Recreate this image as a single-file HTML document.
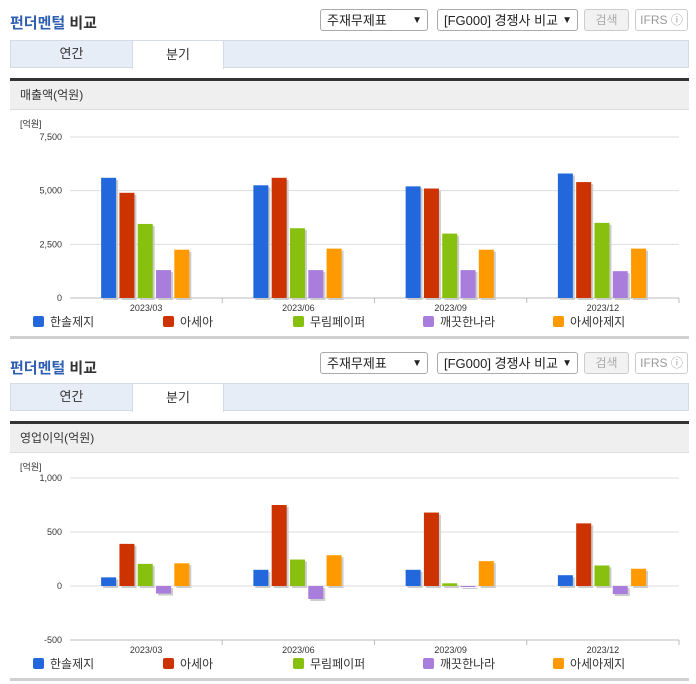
<!DOCTYPE html>
<html><head><meta charset="utf-8">
<style>
body{margin:0;width:696px;height:684px;background:#fff;font-family:"Liberation Sans","Noto Sans CJK KR",sans-serif;position:relative;overflow:hidden}
.abs{position:absolute}
.title{font-size:15px;font-weight:bold;color:#333}
.title span{color:#2f5fb3}
.sel{border:1px solid #aaa;border-radius:3px;height:22px;font-size:13px;line-height:22px;padding-left:6px;box-sizing:border-box;color:#222;background:#fff}
.sel i{position:absolute;right:5px;top:0;font-style:normal;font-size:10px}
.btn{border:1px solid #ccc;border-radius:3px;height:22px;font-size:12px;line-height:20px;text-align:center;box-sizing:border-box;color:#aaa;background:#f2f2f2}
.ifrs{background:#fff;color:#999}
.tabs{left:10px;width:679px;height:28px;background:#e7edf7;border:1px solid #d5dbe5;box-sizing:border-box}
.tab{top:-1px;height:29px;font-size:13px;line-height:28px;text-align:center;color:#333;box-sizing:border-box}
.tab.on{background:#fff;border:1px solid #d5dbe5;border-bottom:none}
.dark{left:10px;width:679px;height:3px;background:#333}
.gray{left:10px;width:679px;height:29px;background:#efefef;font-size:12px;line-height:29px;color:#333;padding-left:10px;box-sizing:border-box;border-bottom:1px solid #ddd}
.bot{left:10px;width:679px;height:3px;background:#d0d0d0}
</style></head><body>
<div>
<div class="abs title" style="left:10px;top:12px"><span>펀더멘털</span> 비교</div>
<div class="abs sel" style="left:320px;top:9px;width:108px">주재무제표<i>▼</i></div>
<div class="abs sel" style="left:437px;top:9px;width:141px">[FG000] 경쟁사 비교<i>▼</i></div>
<div class="abs btn" style="left:584px;top:9px;width:45px">검색</div>
<div class="abs btn ifrs" style="left:635px;top:9px;width:53px">IFRS ⓘ</div>
<div class="abs tabs" style="top:40px">
<div class="abs tab" style="left:0;width:121px">연간</div>
<div class="abs tab on" style="left:121px;width:92px">분기</div></div>
<div class="abs dark" style="top:78px"></div>
<div class="abs gray" style="top:81px">매출액(억원)</div>
<svg class="abs" id="c1" style="left:0;top:110px" width="696" height="230"></svg>
<div class="abs bot" style="top:336px"></div>
</div>
<div>
<div class="abs title" style="left:10px;top:357px"><span>펀더멘털</span> 비교</div>
<div class="abs sel" style="left:320px;top:352px;width:108px">주재무제표<i>▼</i></div>
<div class="abs sel" style="left:437px;top:352px;width:141px">[FG000] 경쟁사 비교<i>▼</i></div>
<div class="abs btn" style="left:584px;top:352px;width:45px">검색</div>
<div class="abs btn ifrs" style="left:635px;top:352px;width:53px">IFRS ⓘ</div>
<div class="abs tabs" style="top:383px">
<div class="abs tab" style="left:0;width:121px">연간</div>
<div class="abs tab on" style="left:121px;width:92px">분기</div></div>
<div class="abs dark" style="top:421px"></div>
<div class="abs gray" style="top:424px">영업이익(억원)</div>
<svg class="abs" id="c2" style="left:0;top:453px" width="696" height="230"></svg>
<div class="abs bot" style="top:678px"></div>
</div>
<script>
const categories=["2023/03","2023/06","2023/09","2023/12"];
const seriesNames=["한솔제지","아세아","무림페이퍼","깨끗한나라","아세아제지"];
const colors=["#2367dc","#cc3300","#88c010","#a97ddc","#ff9900"];
const sales=[[5600,5250,5200,5800],[4900,5600,5100,5400],[3450,3250,3000,3500],[1300,1300,1300,1250],[2250,2300,2250,2300]];
const salesTicks=[0,2500,5000,7500];
const salesTickLabels=["0","2,500","5,000","7,500"];
const op=[[80,150,150,100],[390,750,680,580],[205,245,25,190],[-70,-120,-10,-75],[210,285,230,160]];
const opTicks=[-500,0,500,1000];
const opTickLabels=["-500","0","500","1,000"];
const NS="http://www.w3.org/2000/svg";
function mk(svg,tag,attrs){const e=document.createElementNS(NS,tag);for(const k in attrs)e.setAttribute(k,attrs[k]);svg.appendChild(e);return e;}
function draw(id,data,ticks,labels,yTop,yBot,minV,maxV){
 const svg=document.getElementById(id);
 const x0=70,x1=679,cw=(x1-x0)/categories.length;
 const y=v=>yBot-(v-minV)/(maxV-minV)*(yBot-yTop);
 let t=mk(svg,'text',{x:20,y:17,'font-size':9,fill:'#333'});t.textContent='[억원]';
 
 ticks.forEach((v,i)=>{
  const l=mk(svg,'line',{x1:x0,x2:x1,y1:y(v),y2:y(v),stroke:'#ddd'});
  
  const tx=mk(svg,'text',{x:62,y:y(v)+3,'font-size':9,fill:'#333','text-anchor':'end'});tx.textContent=labels[i];
  
 });
 mk(svg,'line',{x1:x0,x2:x1,y1:yBot,y2:yBot,stroke:'#bbb'});
 categories.forEach((c,ci)=>{
  const cx=x0+cw*(ci+.5);
  mk(svg,'line',{x1:x0+cw*(ci+1),x2:x0+cw*(ci+1),y1:yBot,y2:yBot+5,stroke:'#bbb'});
  const tx=mk(svg,'text',{x:cx,y:yBot+13,'font-size':9,fill:'#333','text-anchor':'middle'});tx.textContent=c;
  
  data.forEach((s,si)=>{
   const v=s[ci],bx=cx-45+si*18.3;
   const top=Math.min(y(v),y(0)),h=Math.abs(y(v)-y(0));
   mk(svg,'rect',{x:bx+2,y:top+2,width:15,height:h,fill:'#ccc'});
   const r=mk(svg,'rect',{x:bx,y:top,width:15,height:h,fill:colors[si]});
   
   
  });
 });
 seriesNames.forEach((n,i)=>{
  const lx=33+i*130;
  const g=mk(svg,'g',{});
  
  
  mk(g,'rect',{x:lx,y:yBot+18,width:11,height:11,rx:2,fill:colors[i]});
  const tx=mk(g,'text',{x:lx+17,y:yBot+28,'font-size':12,fill:'#333'});tx.textContent=n;
 });
}
draw('c1',sales,salesTicks,salesTickLabels,27,188,0,7500);
draw('c2',op,opTicks,opTickLabels,25,187,-500,1000);
</script>
</body></html>
